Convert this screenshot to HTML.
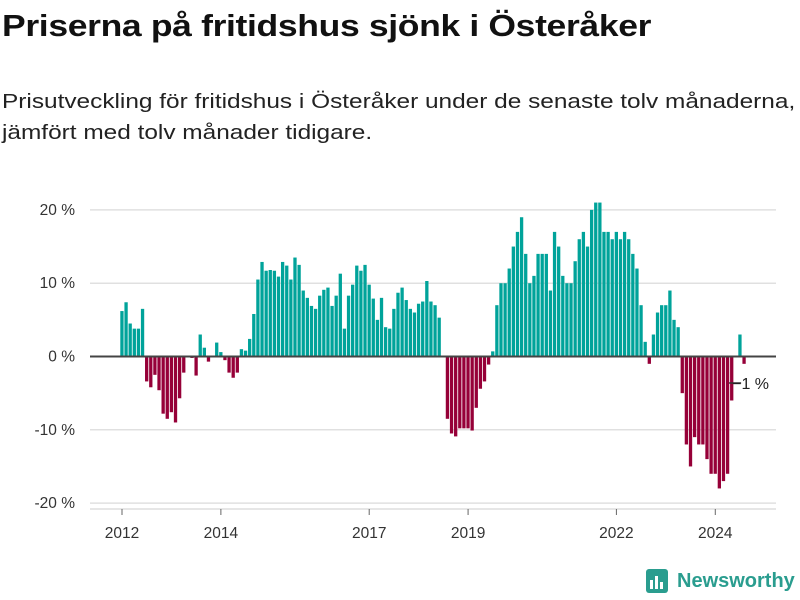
<!DOCTYPE html>
<html><head><meta charset="utf-8"><style>
body{margin:0;background:#fff;width:800px;height:600px;overflow:hidden;font-family:"Liberation Sans",sans-serif}
#title{position:absolute;left:2px;top:8px;font-size:31px;font-weight:bold;color:#111;letter-spacing:-0.3px;transform:scaleX(1.145);transform-origin:left top;white-space:nowrap}
#sub{position:absolute;left:2px;top:86px;font-size:20.5px;line-height:31px;color:#222;transform:scaleX(1.19);transform-origin:left top;white-space:nowrap}
svg{position:absolute;left:0;top:0}
</style></head><body>
<div id="title">Priserna på fritidshus sjönk i Österåker</div>
<div id="sub">Prisutveckling för fritidshus i Österåker under de senaste tolv månaderna,<br>jämfört med tolv månader tidigare.</div>
<svg id="chart" width="800" height="600"></svg>
<script>
const values = [6.2,7.4,4.5,3.8,3.8,6.5,-3.4,-4.2,-2.5,-4.6,-7.8,-8.5,-7.6,-9.0,-5.7,-2.2,0,-0.2,-2.6,3.0,1.2,-0.7,0.1,1.9,0.6,-0.5,-2.2,-2.9,-2.2,1.0,0.8,2.4,5.8,10.5,12.9,11.7,11.8,11.7,10.9,
12.9,12.4,10.5,13.5,12.5,9.0,8.0,6.9,6.5,8.3,9.1,9.4,6.9,8.3,11.3,3.8,8.3,9.8,12.4,11.7,12.5,9.8,7.9,5.0,8.0,4.0,3.8,6.5,8.7,9.4,7.7,6.5,6.0,7.2,7.5,10.3,7.5,7.0,5.3,0,
-8.5,-10.5,-10.9,-9.8,-9.8,-9.8,-10.1,-7.0,-4.4,-3.4,-1.1,
0.7,7,10,10,12,15,17,19,14,10,11,14,14,14,9,17,15,11,10,10,13,16,17,15,20,21,21,17,17,16,17,16,17,16,
14,12,7,2,-1,3,6,7,7,9,5,4,-5,-12,-15,-11,-12,-12,-14,-16,-16,-18,-17,-16,-6,0,3,-1];
const startYear = 2012;
const yTicks = [20,10,0,-10,-20];
const xTickYears = [2012,2014,2017,2019,2022,2024];
const lastLabel = "−1 %";

const svg=document.getElementById('chart');const NS='http://www.w3.org/2000/svg';
function y(v){return 356.5 - v*7.33;}
function x(m){return 122 + m*4.12;}
function el(t,a){const e=document.createElementNS(NS,t);for(const k in a)e.setAttribute(k,a[k]);svg.appendChild(e);return e;}
yTicks.forEach(t=>{
  if(t!==0){const g=el('line',{x1:90,x2:776,y1:y(t),y2:y(t),stroke:'#e0e0e0','stroke-width':1.5});
  
  }
  const tx=el('text',{x:75,y:y(t)+5,'text-anchor':'end','font-size':15.5,fill:'#333'});
  tx.textContent=t+' %';
  
  
});
values.forEach((v,i)=>{
  const r=el('rect',{x:x(i)-1.7,width:3.3,y:Math.min(y(v),y(0)),height:Math.abs(y(v)-y(0)),fill:v>=0?'#00a39a':'#960038'});
  
  
});
const z=el('line',{x1:90,x2:776,y1:y(0),y2:y(0),stroke:'#444','stroke-width':2});


const ax=el('line',{x1:90,x2:776,y1:509,y2:509,stroke:'#ccc','stroke-width':1});


xTickYears.forEach(yr=>{
  const xx=x((yr-startYear)*12);
  const tk=el('line',{x1:xx,x2:xx,y1:509,y2:515,stroke:'#666','stroke-width':1});
  
  
  const t=el('text',{x:xx,y:538,'text-anchor':'middle','font-size':15.5,fill:'#333'});
  t.textContent=yr;
  
  
});
const li=values.length-1;
const ll=el('line',{x1:x(li)-3,x2:x(li)-15,y1:383,y2:383,stroke:'#333','stroke-width':1.5});


const lt=el('text',{x:x(li)-12,y:389,'font-size':16,fill:'#222'});
lt.textContent=lastLabel;


</script>
<div style="position:absolute;left:645px;top:568px;display:flex;align-items:center">
<svg width="24" height="26" style="position:static"><rect x="1" y="1" width="22" height="24" rx="3" fill="#2a9d8f"/><rect x="5" y="12" width="3" height="9" fill="#fff"/><rect x="10" y="8" width="3" height="13" fill="#fff"/><rect x="15" y="14" width="3" height="7" fill="#fff"/></svg>
<span style="margin-left:8px;font-size:20px;font-weight:bold;color:#2a9d8f">Newsworthy</span></div>
</body></html>
